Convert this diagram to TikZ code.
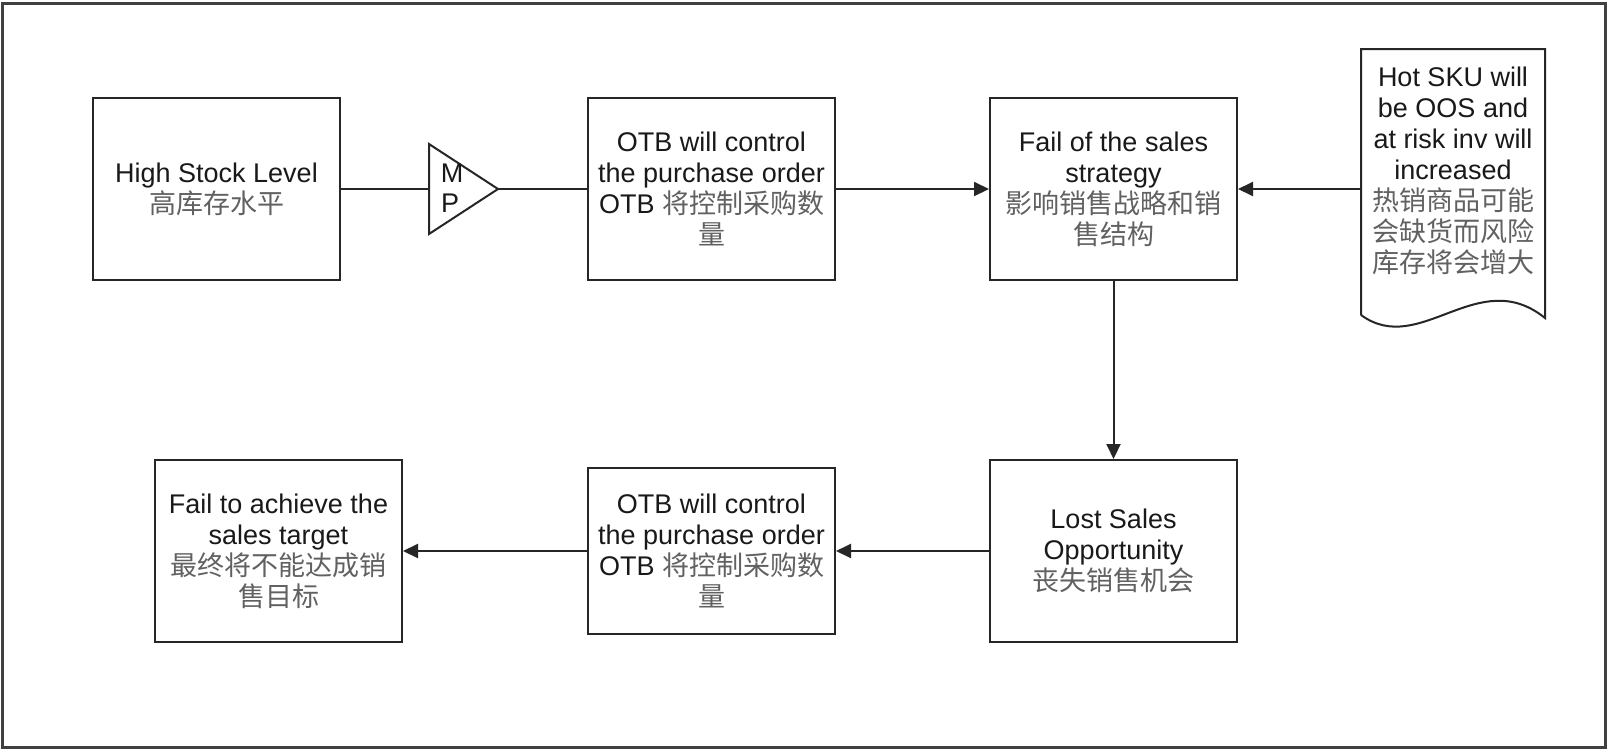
\documentclass[tikz,border=0pt]{standalone}
\usepackage{fontspec}
\setmainfont{Liberation Sans}
\newfontfamily\cjk{Noto Sans CJK SC}
\usetikzlibrary{arrows.meta}
\newcommand\zhtext[1]{{\cjk\color{black!62}#1}}
\begin{document}
\begin{tikzpicture}[x=1pt,y=-1pt,
  box/.style={draw=black!85,line width=2pt,minimum width=247pt,minimum height=182pt,
    inner sep=0pt,align=center,font=\fontsize{27}{31}\selectfont,text=black!90},
  lbl/.style={align=center,font=\fontsize{27}{31}\selectfont,text=black!90,inner sep=0pt},
  link/.style={draw=black!85,line width=2pt},
  flow/.style={link,-{Triangle[length=15pt,width=14pt]}}]
\useasboundingbox (0,0) rectangle (1608,750);
\fill[white] (0,0) rectangle (1608,750);
% outer frame
\draw[line width=3pt,black!75] (2,3) rectangle (1605,747);

% upper row
\node[box] (b1) at (216.5,189) {High Stock Level\\\zhtext{高库存水平}};
\node[box] (b2) at (711.5,189) {OTB will control\\the purchase order\\OTB \zhtext{将控制采购数}\\\zhtext{量}};
\node[box] (b3) at (1113.5,189) {Fail of the sales\\strategy\\\zhtext{影响销售战略和销}\\\zhtext{售结构}};

% merge triangle
\draw[link,line join=miter] (429,144) -- (498,189) -- (429,234) -- cycle;
\coordinate (mpin) at (429,189);
\coordinate (mpout) at (498,189);
\node[lbl] (mm) at (452,173) {M};
\node[lbl] (mp) at (450,203) {P};

% document shape
\draw[link,line join=miter] (1361,315) -- (1361,49) -- (1545,49) -- (1545,318)
  .. controls (1478,264) and (1420,358) .. (1361,315);
\coordinate (docL) at (1361,189);
\node[lbl] (doctext) at (1453,171) {Hot SKU will\\be OOS and\\at risk inv will\\increased\\\zhtext{热销商品可能}\\\zhtext{会缺货而风险}\\\zhtext{库存将会增大}};

% lower row
\node[box] (b4) at (1113.5,551) {Lost Sales\\Opportunity\\\zhtext{丧失销售机会}};
\node[box,minimum height=166pt] (b5) at (711.5,551) {OTB will control\\the purchase order\\OTB \zhtext{将控制采购数}\\\zhtext{量}};
\node[box] (b6) at (278.5,551) {Fail to achieve the\\sales target\\\zhtext{最终将不能达成销}\\\zhtext{售目标}};

% connectors
\draw[link] (b1.east) -- (mpin);
\draw[link] (mpout) -- (b2.west);
\draw[flow] (b2) -- (b3);
\draw[flow] (docL) -- (b3.east);
\draw[flow] (b3) -- (b4);
\draw[flow] (b4) -- (b5);
\draw[flow] (b5) -- (b6);
\end{tikzpicture}
\end{document}
